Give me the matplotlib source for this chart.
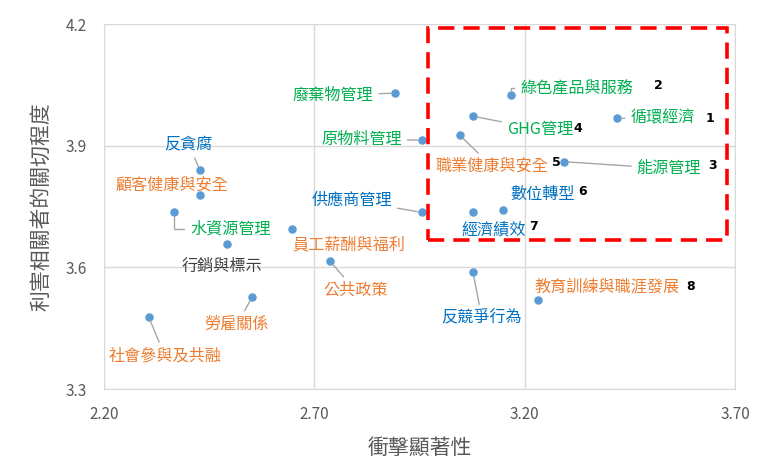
import matplotlib
matplotlib.use('Agg')
import matplotlib.pyplot as plt
from matplotlib.patches import Rectangle

plt.rcParams['font.family'] = ['Noto Sans CJK TC', 'DejaVu Sans']

# data
topics = ['反貪腐', '顧客健康與安全', '水資源管理', '行銷與標示', '員工薪酬與福利',
          '公共政策', '勞雇關係', '社會參與及共融', '廢棄物管理', '原物料管理',
          '供應商管理', '綠色產品與服務', 'GHG管理', '職業健康與安全', '循環經濟',
          '能源管理', '數位轉型', '經濟績效', '反競爭行為', '教育訓練與職涯發展']
impact = [2.429, 2.429, 2.367, 2.492, 2.646,
          2.738, 2.552, 2.307, 2.892, 2.955,
          2.955, 3.168, 3.077, 3.046, 3.418,
          3.293, 3.148, 3.077, 3.077, 3.232]
concern = [3.840, 3.778, 3.736, 3.658, 3.695,
           3.615, 3.526, 3.478, 4.030, 3.914,
           3.736, 4.026, 3.973, 3.926, 3.968,
           3.861, 3.742, 3.736, 3.588, 3.520]
groups = ['gov', 'soc', 'env', 'other', 'soc',
          'soc', 'soc', 'soc', 'env', 'env',
          'gov', 'env', 'env', 'soc', 'env',
          'env', 'gov', 'gov', 'gov', 'soc']
ranks = {'循環經濟': '1', '綠色產品與服務': '2', '能源管理': '3', 'GHG管理': '4',
         '職業健康與安全': '5', '數位轉型': '6', '經濟績效': '7', '教育訓練與職涯發展': '8'}

colors = {'env': '#00B050', 'soc': '#ED7D31', 'gov': '#0070C0', 'other': '#404040'}

# label placement (pixel offsets from point), leader line style
label_pos = {
    '反貪腐': (-12, 26, 'line'), '顧客健康與安全': (-28, 10, None),
    '水資源管理': (57, -17, 'elbow'), '行銷與標示': (-5, -22, None),
    '員工薪酬與福利': (57, -16, None), '公共政策': (25, -29, 'line'),
    '勞雇關係': (-15, -27, 'line'), '社會參與及共融': (16, -39, 'line'),
    '廢棄物管理': (-62, -2, 'line'), '原物料管理': (-60, 1, 'line'),
    '供應商管理': (-70, 12, 'line'), '綠色產品與服務': (66, 7, 'elbow'),
    'GHG管理': (67, -13, 'line'), '職業健康與安全': (32, -31, 'line'),
    '循環經濟': (46, 0, 'line'), '能源管理': (105, -7, 'line'),
    '數位轉型': (40, 16, None), '經濟績效': (21, -18, None),
    '反競爭行為': (9, -46, 'line'), '教育訓練與職涯發展': (69, 13, None),
}
rank_pos = {'1': (93, 0), '2': (147, 9), '3': (149, -4), '4': (105, -12),
            '5': (96, -27), '6': (80, 18), '7': (61, -14), '8': (152, 13)}

fig = plt.figure(figsize=(7.74, 4.66), dpi=100)
ax = fig.add_axes([0.134, 0.165, 0.816, 0.783])

ax.scatter(impact, concern, s=26, color='#5B9BD5', zorder=3)

for name, x, y, g in zip(topics, impact, concern, groups):
    dx, dy, line = label_pos[name]
    arrow = None
    if line == 'line':
        arrow = dict(arrowstyle='-', color='#A6A6A6', lw=1.0, shrinkA=2, shrinkB=3)
    elif line == 'elbow':
        arrow = dict(arrowstyle='-', color='#A6A6A6', lw=1.0, shrinkA=3, shrinkB=3,
                     relpos=(0, 0.5), connectionstyle='angle,angleA=0,angleB=90,rad=0')
    ax.annotate(name, (x, y), xytext=(dx, dy), textcoords='offset pixels',
                ha='center', va='center', fontsize=11.6, color=colors[g],
                arrowprops=arrow, zorder=4)
    if name in ranks:
        r = ranks[name]
        rx, ry = rank_pos[r]
        ax.annotate(r, (x, y), xytext=(rx, ry), textcoords='offset pixels',
                    ha='center', va='center', fontsize=9, fontweight='bold',
                    color='black', family='DejaVu Sans')

# highlight box for material topics
ax.add_patch(Rectangle((2.970, 3.668), 0.710, 0.523, fill=False, ec='#FF0000',
                       lw=2.6, ls=(0, (4.5, 2.5)), zorder=5, clip_on=False))

ax.set_xlim(2.2, 3.7)
ax.set_ylim(3.3, 4.2)
ax.set_xticks([2.2, 2.7, 3.2, 3.7])
ax.set_xticklabels(['2.20', '2.70', '3.20', '3.70'])
ax.set_yticks([3.3, 3.6, 3.9, 4.2])
ax.set_yticklabels(['3.3', '3.6', '3.9', '4.2'])
ax.tick_params(length=0, labelsize=11, labelcolor='#595959', pad=12)
ax.grid(True, color='#D9D9D9', lw=1)
ax.set_axisbelow(True)
for s in ax.spines.values():
    s.set_color('#D9D9D9')

ax.set_xlabel('衝擊顯著性', fontsize=15, color='#595959', labelpad=10)
ax.set_ylabel('利害相關者的關切程度', fontsize=15, color='#595959', labelpad=10)

fig.savefig('out.png', dpi=100)
